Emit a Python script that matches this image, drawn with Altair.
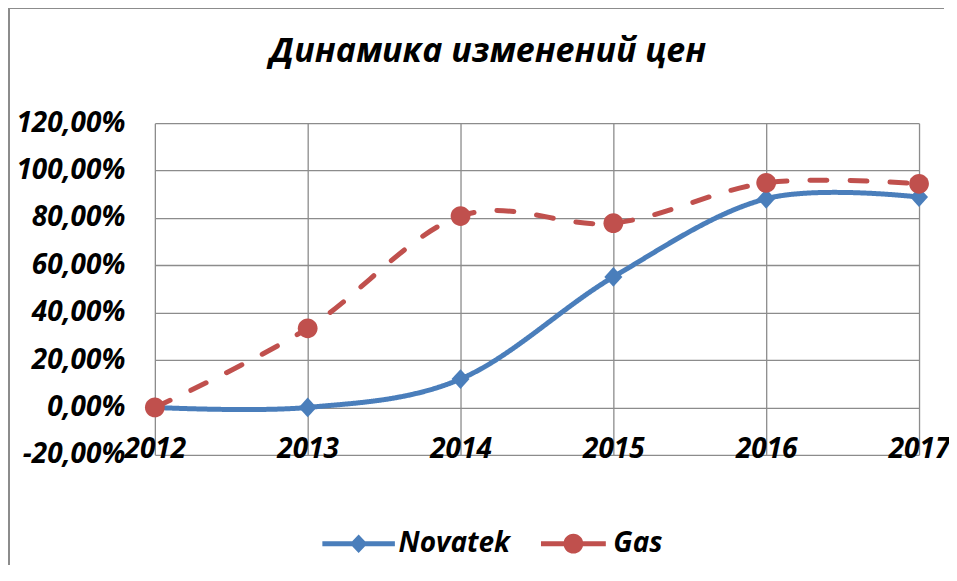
import altair as alt
import pandas as pd

years = ["2012", "2013", "2014", "2015", "2016", "2017"]
novatek = [0.0, 0.0, 0.12, 0.551, 0.881, 0.888]
gas = [0.0, 0.334, 0.808, 0.778, 0.948, 0.944]
series_names = ["Novatek", "Gas"]
colors = ["#4A7EBB", "#C0504D"]
y_ticks = [-0.2, 0.0, 0.2, 0.4, 0.6, 0.8, 1.0, 1.2]

rows = []
for name, vals in zip(series_names, [novatek, gas]):
    for yr, v in zip(years, vals):
        rows.append({"year": yr, "value": v, "series": name})
df = pd.DataFrame(rows)

FONT = "Open Sans"
LABEL_SIZE = 28

# plain marker shapes for the chart
diamond = "M0,-0.9L0.82,0L0,0.9L-0.82,0Z"
circle = "M0.9,0A0.9,0.9 0 1,1 -0.9,0A0.9,0.9 0 1,1 0.9,0Z"
# legend symbols: marker with a line segment through it (all filled)
diamond_leg = "M-3.3,-0.22H3.3V0.22H-3.3Z M0,-0.85L0.8,0L0,0.85L-0.8,0Z"
circle_leg = "M-2.95,-0.22H2.95V0.22H-2.95Z M0.9,0A0.9,0.9 0 1,1 -0.9,0A0.9,0.9 0 1,1 0.9,0Z"

color_scale = alt.Scale(domain=series_names, range=colors)

x_enc = alt.X("year:O", sort=years,
              scale=alt.Scale(type="point", padding=0),
              axis=alt.Axis(title=None, labelAngle=0, grid=True, ticks=False, tickSize=0,
                            domain=False, labelOverlap=False, labelBound=False, labelFlush=False,
                            labelFont=FONT, labelFontSize=LABEL_SIZE, labelFontWeight="bold",
                            labelFontStyle="italic", labelColor="#000000",
                            labelBaseline="alphabetic", labelPadding=3,
                            gridColor="#8C8C8C", gridWidth=1.3))
y_enc = alt.Y("value:Q",
              scale=alt.Scale(domain=[-0.2, 1.2], nice=False, zero=False),
              axis=alt.Axis(title=None, values=y_ticks, grid=True, ticks=False, tickSize=0,
                            domain=False, labelOverlap=False, labelBound=False, labelFlush=False,
                            labelExpr="replace(replace(format(datum.value, '.2%'), '.', ','), '\u2212', '-')",
                            labelFont=FONT, labelFontSize=LABEL_SIZE, labelFontWeight="bold",
                            labelFontStyle="italic", labelColor="#000000",
                            labelPadding=30, gridColor="#8C8C8C", gridWidth=1.3))

legend = alt.Legend(title=None, orient="none", legendX=190, legendY=407,
                    direction="horizontal", symbolSize=484, symbolStrokeWidth=0,
                    labelFont=FONT, labelFontSize=28, labelFontWeight="bold",
                    labelFontStyle="italic", labelColor="#000000", labelOffset=26,
                    columnPadding=30)

lines = alt.Chart(df).mark_line(interpolate="cardinal", strokeWidth=5, strokeCap="round").encode(
    x=x_enc, y=y_enc,
    color=alt.Color("series:N", scale=color_scale, legend=None),
    strokeDash=alt.StrokeDash("series:N", scale=alt.Scale(domain=series_names, range=[[1, 0], [17, 23]]), legend=None),
)

points = alt.Chart(df).mark_point(filled=True, size=484, opacity=1).encode(
    x=x_enc, y=y_enc,
    color=alt.Color("series:N", scale=color_scale, legend=None),
    shape=alt.Shape("series:N", scale=alt.Scale(domain=series_names, range=[diamond, circle]), legend=None),
)

# legend-only layer (no rows drawn), carries the line+marker symbols
legend_layer = alt.Chart(df).transform_filter("datum.value > 100").mark_point(filled=True, size=484, opacity=1).encode(
    x=x_enc, y=y_enc,
    fill=alt.Fill("series:N", scale=alt.Scale(domain=series_names, range=colors), legend=legend),
    shape=alt.Shape("series:N", scale=alt.Scale(domain=series_names, range=[diamond_leg, circle_leg]), legend=legend),
)

frame_left = alt.Chart(df).mark_rule(color="#8C8C8C", strokeWidth=1.5).encode(
    x=alt.value(-146), y=alt.value(-115), y2=alt.value(600))
frame_top = alt.Chart(df).mark_rule(color="#8C8C8C", strokeWidth=1.5).encode(
    x=alt.value(-146), x2=alt.value(790), y=alt.value(-115))

chart = alt.layer(frame_left, frame_top, lines, points, legend_layer).resolve_scale(
    shape="independent", fill="independent"
).resolve_legend(
    shape="independent", fill="independent"
).properties(
    width=765, height=332,
    padding={"left": 147, "top": 115, "right": 30, "bottom": 110},
    autosize=alt.AutoSizeParams(type="none"),
    title=alt.TitleParams("Динамика изменений цен", font=FONT, fontSize=34, fontWeight="bold",
                          fontStyle="italic", color="#000000", anchor="middle", dx=-49,
                          baseline="alphabetic", offset=-89),
).configure_view(stroke=None)

chart.save("out.html", embed_options={"renderer": "svg", "actions": False})
